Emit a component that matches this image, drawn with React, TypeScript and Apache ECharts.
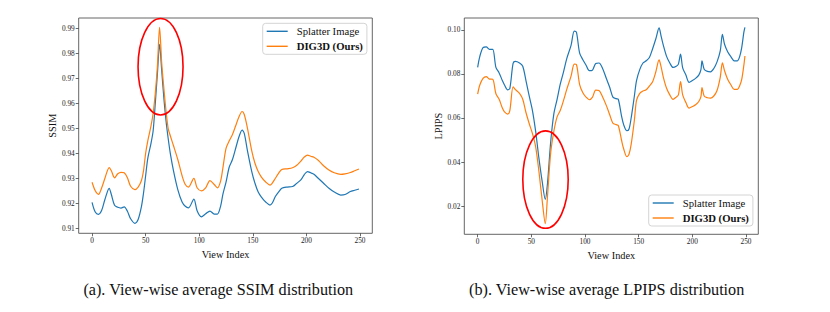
import React, { useEffect, useRef } from "react";
import * as echarts from "echarts";

// ---------- data ----------
const ssimIdx = [0,3,6,9,12,16,18,21,24,27,30,33,36,40,43,46,48,50,52,55,57,59,61,63,65,67,69,71,73,76,80,84,87,90,95,98,102,106,110,114,117,120,122,125,128,131,134,137,140,142,145,149,152,155,158,162,166,168,171,174,177,182,187,191,195,198,201,204,207,211,216,221,226,232,236,241,245,249];
const ssimSplatter = [0.9204,0.9165,0.9156,0.9172,0.9215,0.926,0.9235,0.9192,0.9184,0.9181,0.9186,0.9168,0.9138,0.912,0.9135,0.9185,0.924,0.931,0.938,0.944,0.949,0.96,0.972,0.9836,0.973,0.962,0.953,0.946,0.94,0.933,0.9255,0.9205,0.9188,0.9182,0.9217,0.917,0.9146,0.9158,0.9169,0.9157,0.9157,0.919,0.9235,0.9285,0.9345,0.9375,0.942,0.9465,0.9493,0.948,0.941,0.9327,0.928,0.9245,0.9225,0.9205,0.9193,0.92,0.9227,0.9245,0.926,0.9265,0.9267,0.928,0.9295,0.9315,0.9327,0.9322,0.9316,0.93,0.928,0.926,0.9245,0.9233,0.9235,0.9247,0.9252,0.9257];
const ssimDig3d = [0.9284,0.925,0.9236,0.9262,0.93,0.9343,0.933,0.9302,0.9318,0.9324,0.9322,0.9302,0.9268,0.9255,0.9265,0.929,0.933,0.94,0.945,0.951,0.956,0.964,0.975,0.9904,0.976,0.966,0.957,0.95,0.947,0.943,0.9375,0.931,0.9275,0.9265,0.93,0.9262,0.925,0.9262,0.9291,0.9275,0.9262,0.929,0.934,0.942,0.945,0.9475,0.951,0.9545,0.9567,0.9555,0.95,0.941,0.936,0.9327,0.9305,0.9285,0.9273,0.928,0.93,0.932,0.9335,0.9338,0.9342,0.9352,0.937,0.9385,0.9393,0.9388,0.9384,0.9372,0.935,0.9333,0.9322,0.9316,0.9318,0.9323,0.933,0.9337];

const lpipsIdx = [0,2,5,8,11,14,17,20,23,25,28,30,33,35,39,42,45,48,51,54,57,60,63,65,68,71,74,77,80,83,87,90,92,95,98,101,104,107,110,113,116,120,123,126,129,131,134,136,139,141,143,146,148,151,154,157,160,163,166,169,171,173,176,179,182,185,187,189,191,194,197,200,203,206,208,209,211,214,217,220,223,226,228,230,233,236,239,242,244,246,248,249];
const lpipsSplatter = [0.083,0.088,0.092,0.0923,0.0912,0.0912,0.083,0.0805,0.077,0.075,0.0728,0.0735,0.0848,0.0857,0.085,0.0835,0.077,0.07,0.0635,0.054,0.042,0.0315,0.023,0.03,0.049,0.062,0.0685,0.0755,0.081,0.087,0.093,0.0995,0.099,0.0895,0.0865,0.084,0.0815,0.0818,0.0848,0.085,0.083,0.0778,0.074,0.0695,0.0688,0.0685,0.061,0.057,0.0542,0.055,0.06,0.07,0.077,0.082,0.085,0.086,0.0875,0.0915,0.096,0.101,0.097,0.093,0.088,0.085,0.083,0.0835,0.0845,0.089,0.0828,0.0795,0.0762,0.077,0.078,0.0795,0.082,0.086,0.0822,0.0812,0.081,0.0825,0.0855,0.0905,0.098,0.0935,0.09,0.0878,0.086,0.086,0.0878,0.092,0.099,0.1012];
const lpipsDig3d = [0.0709,0.075,0.078,0.0788,0.0777,0.0776,0.071,0.0685,0.0645,0.0628,0.0618,0.0635,0.0742,0.073,0.0712,0.0685,0.0625,0.0575,0.053,0.047,0.036,0.023,0.012,0.024,0.044,0.054,0.0605,0.0635,0.068,0.073,0.079,0.0845,0.0843,0.0752,0.0715,0.0695,0.0683,0.0695,0.0727,0.0725,0.07,0.0655,0.0615,0.0576,0.057,0.0566,0.05,0.046,0.0424,0.0435,0.048,0.059,0.068,0.0712,0.0723,0.0728,0.0745,0.0765,0.081,0.0864,0.083,0.0785,0.0735,0.0705,0.0685,0.0695,0.0705,0.0765,0.0705,0.067,0.0645,0.0652,0.066,0.0675,0.0697,0.0738,0.07,0.0692,0.069,0.07,0.0725,0.0785,0.0851,0.0815,0.0775,0.075,0.073,0.073,0.0745,0.0775,0.084,0.0882];

const xTicks = [0, 50, 100, 150, 200, 250];
const ssimTicks = [0.91, 0.92, 0.93, 0.94, 0.95, 0.96, 0.97, 0.98, 0.99];
const lpipsTicks = [0.02, 0.04, 0.06, 0.08, 0.10];

const seriesNames = ["Splatter Image", "DIG3D (Ours)"];
const captions = [
  "(a). View-wise average SSIM distribution",
  "(b). View-wise average LPIPS distribution",
];
// highlighted regions (data coordinates of ellipse centres)
const highlightCenters: [number, number][] = [
  [63.9, 0.9746],
  [63.2, 0.032],
];

const FONT = "'Liberation Serif', 'Times New Roman', serif";
const BLUE = "#1f77b4";
const ORANGE = "#ff7f0e";

function pairs(idx: number[], vals: number[]) {
  return idx.map((x, i) => [x, vals[i]]);
}

export default function App() {
  const ref = useRef<HTMLDivElement>(null);
  useEffect(() => {
    document.body.style.margin = "0";
    if (!ref.current) return;
    const chart = echarts.init(ref.current, null, { renderer: "svg" });

    const xAxisCommon = (gridIndex: number) => ({
      type: "value" as const,
      gridIndex,
      min: -12.45,
      max: 261.45,
      name: "View Index",
      nameLocation: "middle" as const,
      nameGap: 14,
      nameTextStyle: { fontFamily: FONT, fontSize: 10.3, color: "#111" },
      axisLine: { show: false, onZero: false },
      axisTick: { show: true, length: 3, customValues: xTicks, lineStyle: { color: "#444", width: 0.8 } },
      axisLabel: { customValues: xTicks, fontFamily: FONT, fontSize: 7.3, color: "#222", margin: 4 },
      splitLine: { show: false },
    });

    const yAxisCommon = (gridIndex: number, name: string, min: number, max: number, ticks: number[], digits: number, gap: number) => ({
      type: "value" as const,
      gridIndex,
      min,
      max,
      name,
      nameLocation: "middle" as const,
      nameRotate: 90,
      nameGap: gap,
      nameTextStyle: { fontFamily: FONT, fontSize: 10.3, color: "#111" },
      axisLine: { show: false, onZero: false },
      axisTick: { show: true, length: 3, customValues: ticks, lineStyle: { color: "#444", width: 0.8 } },
      axisLabel: {
        customValues: ticks,
        fontFamily: FONT,
        fontSize: 7.3,
        color: "#222",
        margin: 4,
        formatter: (v: number) => v.toFixed(digits),
      },
      splitLine: { show: false },
    });

    const legendCommon = (left: number, top: number) => ({
      orient: "vertical" as const,
      left,
      top,
      icon: "rect",
      itemWidth: 21,
      itemHeight: 1.4,
      itemGap: 3,
      padding: [2, 4, 2, 4],
      backgroundColor: "rgba(255,255,255,0.8)",
      borderColor: "#d4d4d4",
      borderWidth: 1,
      borderRadius: 3,
      textStyle: { fontFamily: FONT, fontSize: 10.7, color: "#111", lineHeight: 12, padding: [0, 0, 0, 4] },
      data: [
        { name: seriesNames[0] },
        { name: seriesNames[1], textStyle: { fontWeight: "bold" } },
      ],
    });

    const lineSeries = (name: string, color: string, data: number[][], xi: number, yi: number) => ({
      type: "line" as const,
      name,
      xAxisIndex: xi,
      yAxisIndex: yi,
      data,
      showSymbol: false,
      symbol: "none",
      smooth: 0.3,
      lineStyle: { color, width: 1.2 },
      itemStyle: { color },
    });

    chart.setOption({
      animation: false,
      backgroundColor: "#fff",
      grid: [
        { left: 78.7, top: 18, width: 293.6, height: 215.3, show: true, borderColor: "#555", borderWidth: 0.9 },
        { left: 464.3, top: 18, width: 294, height: 216.3, show: true, borderColor: "#555", borderWidth: 0.9 },
      ],
      xAxis: [xAxisCommon(0), xAxisCommon(1)],
      yAxis: [
        yAxisCommon(0, "SSIM", 0.908, 0.9941, ssimTicks, 2, 21),
        yAxisCommon(1, "LPIPS", 0.00714, 0.10545, lpipsTicks, 2, 20),
      ],
      legend: [legendCommon(262.7, 23.3), legendCommon(648.7, 195)],
      series: [
        lineSeries(seriesNames[0], BLUE, pairs(ssimIdx, ssimSplatter), 0, 0),
        lineSeries(seriesNames[1], ORANGE, pairs(ssimIdx, ssimDig3d), 0, 0),
        lineSeries(seriesNames[0], BLUE, pairs(lpipsIdx, lpipsSplatter), 1, 1),
        lineSeries(seriesNames[1], ORANGE, pairs(lpipsIdx, lpipsDig3d), 1, 1),
      ],
    });

    const c0 = chart.convertToPixel({ gridIndex: 0 }, highlightCenters[0]) as number[];
    const c1 = chart.convertToPixel({ gridIndex: 1 }, highlightCenters[1]) as number[];
    chart.setOption({
      graphic: [
        { type: "ellipse", shape: { cx: c0[0], cy: c0[1], rx: 22.5, ry: 48.2 }, style: { fill: "none", stroke: "#ff0000", lineWidth: 1.6 }, z: 100 },
        { type: "ellipse", shape: { cx: c1[0], cy: c1[1], rx: 22.7, ry: 48.7 }, style: { fill: "none", stroke: "#ff0000", lineWidth: 1.6 }, z: 100 },
        { type: "text", x: 218.3, y: 290, style: { text: captions[0], font: `16.2px ${FONT}`, fill: "#111", textAlign: "center", textVerticalAlign: "middle" } },
        { type: "text", x: 606.7, y: 290, style: { text: captions[1], font: `16.2px ${FONT}`, fill: "#111", textAlign: "center", textVerticalAlign: "middle" } },
      ],
    });

    return () => chart.dispose();
  }, []);
  return <div ref={ref} style={{ width: 830, height: 312 }} />;
}
